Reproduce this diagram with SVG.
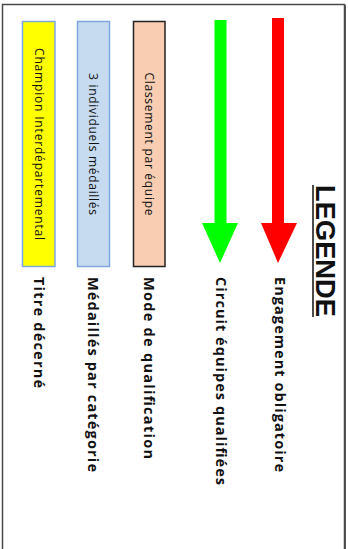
<svg xmlns="http://www.w3.org/2000/svg" width="348" height="549" viewBox="0 0 348 549">
<style>
.lbl{font-family:"Open Sans","Liberation Sans",sans-serif;font-size:14.5px;font-weight:bold;fill:#111;}
.box{font-family:"Open Sans","Liberation Sans",sans-serif;font-size:12px;fill:#111;}
.title{font-family:"Liberation Sans",Arial,sans-serif;font-size:27px;font-weight:bold;fill:#111;}
</style>
<rect x="0" y="0" width="348" height="549" fill="#ffffff"/>
<g id="frame">
<rect x="2.5" y="4.5" width="342" height="600" fill="#ffffff" stroke="#4a4a4a" stroke-width="1.5"/>
<line x1="345.5" y1="5" x2="345.5" y2="549" stroke="#555" stroke-width="1"/>
</g>
<g id="title">
<text class="title" transform="translate(316,185) rotate(90)" textLength="132" lengthAdjust="spacingAndGlyphs">LEGENDE</text>
<line x1="313" y1="185" x2="313" y2="317" stroke="#111" stroke-width="1.5"/>
</g>
<g id="connectors">
<g id="arrow-red">
<polygon points="272,18 284,18 284,223 297,223 278,263 261,223 272,223" fill="#ff0000"/>
</g>
<g id="arrow-green">
<polygon points="214.5,20 226.5,20 226.5,223 238,223 220,263 202,223 214.5,223" fill="#00ff00"/>
</g>
</g>
<g id="legend-red-label">
<text class="lbl" transform="translate(275,277) rotate(90)" textLength="195" lengthAdjust="spacing">Engagement obligatoire</text>
</g>
<g id="legend-green-label">
<text class="lbl" transform="translate(216,277) rotate(90)" textLength="208" lengthAdjust="spacing">Circuit équipes qualifiées</text>
</g>
<g id="box-classement">
<rect x="133.5" y="21.5" width="31.5" height="245" fill="#f8cdb2" stroke="#222" stroke-width="1.5"/>
<text class="box" transform="translate(145,144) rotate(90)" text-anchor="middle" textLength="143" lengthAdjust="spacing">Classement par équipe</text>
<text class="lbl" transform="translate(144,277) rotate(90)" textLength="182" lengthAdjust="spacing">Mode de qualification</text>
</g>
<g id="box-medailles">
<rect x="77.5" y="21.5" width="32" height="245" fill="#c6dbf0" stroke="#7ea6e0" stroke-width="1.5"/>
<text class="box" transform="translate(89,144) rotate(90)" text-anchor="middle" textLength="142" lengthAdjust="spacing">3 individuels médaillés</text>
<text class="lbl" transform="translate(88,277) rotate(90)" textLength="195" lengthAdjust="spacing">Médaillés par catégorie</text>
</g>
<g id="box-champion">
<rect x="22.5" y="21.5" width="32.5" height="245" fill="#ffff00" stroke="#7ea6e0" stroke-width="1.5"/>
<text class="box" transform="translate(34.5,144) rotate(90)" text-anchor="middle" textLength="192" lengthAdjust="spacing">Champion Interdépartemental</text>
<text class="lbl" transform="translate(34,277) rotate(90)" textLength="111" lengthAdjust="spacing">Titre décerné</text>
</g>
</svg>
